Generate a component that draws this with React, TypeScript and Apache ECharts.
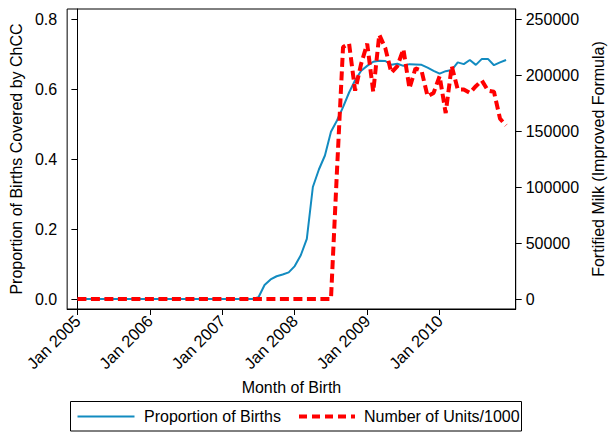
import React, { useEffect, useRef } from "react";
import * as echarts from "echarts";

// Month index: 0 = Jan 2005 ... 71 = Dec 2010
const months: number[] = Array.from({ length: 72 }, (_, i) => i);

const proportionBirths: number[] = [
  0, 0, 0, 0, 0, 0, 0, 0, 0, 0, 0, 0,
  0, 0, 0, 0, 0, 0, 0, 0, 0, 0, 0, 0,
  0, 0, 0, 0, 0, 0, 0.005, 0.04, 0.056, 0.065, 0.07, 0.076,
  0.094, 0.125, 0.172, 0.32, 0.37, 0.41, 0.478, 0.51, 0.548, 0.59, 0.625, 0.652,
  0.666, 0.678, 0.681, 0.68, 0.669, 0.672, 0.666, 0.671, 0.67, 0.669, 0.661, 0.652,
  0.644, 0.651, 0.654, 0.676, 0.671, 0.683, 0.669, 0.686, 0.686, 0.668, 0.676, 0.683,
];

const unitsMilk: number[] = [
  0, 0, 0, 0, 0, 0, 0, 0, 0, 0, 0, 0,
  0, 0, 0, 0, 0, 0, 0, 0, 0, 0, 0, 0,
  0, 0, 0, 0, 0, 0, 0, 0, 0, 0, 0, 0,
  0, 0, 0, 0, 0, 0, 0, 115000, 225000, 228000, 186000, 210000,
  228000, 185000, 236000, 224000, 202000, 208000, 223000, 188000, 206000, 204000, 181000, 184000,
  199000, 166000, 208000, 187000, 187000, 184000, 190000, 195000, 186000, 185000, 161000, 155000,
];

const xTickMonths: number[] = [0, 12, 24, 36, 48, 60];
const leftTicks: number[] = [0, 0.2, 0.4, 0.6, 0.8];
const rightTicks: number[] = [0, 50000, 100000, 150000, 200000, 250000];

const seriesNames = ["Proportion of Births", "Number of Units/1000"];

const FONT = "'Liberation Sans', Arial, Helvetica, sans-serif";
const FS = 16;
const BLUE = "#128bc0";
const RED = "#ff0000";

export default function App() {
  const ref = useRef<HTMLDivElement>(null);

  useEffect(() => {
    if (!ref.current) return;
    document.body.style.margin = "0";
    const chart = echarts.init(ref.current, undefined, { renderer: "svg" });

    const labelStyle = { color: "#000", fontFamily: FONT, fontSize: FS };

    chart.setOption({
      animation: false,
      backgroundColor: "#fff",
      textStyle: { fontFamily: FONT },
      grid: {
        left: 65,
        top: 9,
        width: 462,
        height: 300,
        show: true,
        borderColor: "#000",
        borderWidth: 1,
        backgroundColor: "transparent",
      },
      xAxis: {
        type: "value",
        min: -1.7,
        max: 72.6,
        name: "Month of Birth",
        nameLocation: "middle",
        nameGap: 64,
        nameTextStyle: { ...labelStyle },
        axisLine: { show: true, onZero: false, lineStyle: { color: "#000", width: 1 } },
        axisTick: {
          show: true,
          length: 6,
          customValues: xTickMonths,
          lineStyle: { color: "#000" },
        },
        axisLabel: {
          ...labelStyle,
          fontSize: 16.5,
          rotate: 45,
          margin: 9,
          customValues: xTickMonths,
          formatter: (v: number) => "Jan " + (2005 + Math.round(v / 12)),
        },
        splitLine: { show: false },
      },
      yAxis: [
        {
          type: "value",
          position: "left",
          min: -0.8 / 28,
          max: 0.8 + 0.8 / 28,
          name: "Proportion of Births Covered by ChCC",
          nameLocation: "middle",
          nameGap: 39,
          nameTextStyle: { ...labelStyle },
          axisLine: { show: true, lineStyle: { color: "#000" } },
          axisTick: {
            show: true,
            length: 6,
            customValues: leftTicks,
            lineStyle: { color: "#000" },
          },
          axisLabel: {
            ...labelStyle,
            margin: 10,
            customValues: leftTicks,
            formatter: (v: number) => v.toFixed(1),
          },
          splitLine: { show: false },
        },
        {
          type: "value",
          position: "right",
          min: -250000 / 28,
          max: 250000 + 250000 / 28,
          name: "Fortified Milk (Improved Formula)",
          nameLocation: "middle",
          nameGap: 71,
          nameTextStyle: { ...labelStyle },
          axisLine: { show: true, lineStyle: { color: "#000" } },
          axisTick: {
            show: true,
            length: 6,
            customValues: rightTicks,
            lineStyle: { color: "#000" },
          },
          axisLabel: {
            ...labelStyle,
            margin: 10,
            customValues: rightTicks,
            formatter: (v: number) => String(Math.round(v)),
          },
          splitLine: { show: false },
        },
      ],
      series: [
        {
          name: seriesNames[0],
          type: "line",
          yAxisIndex: 0,
          symbol: "none",
          data: months.map((m, i) => [m, proportionBirths[i]]),
          lineStyle: { color: BLUE, width: 2 },
          itemStyle: { color: BLUE },
          z: 2,
        },
        {
          name: seriesNames[1],
          type: "line",
          yAxisIndex: 1,
          symbol: "none",
          data: months.map((m, i) => [m, unitsMilk[i]]),
          lineStyle: { color: RED, width: 4, type: [9, 4.5] },
          itemStyle: { color: RED },
          z: 3,
        },
      ],
      graphic: [
        {
          type: "rect",
          shape: { x: 70.5, y: 401.5, width: 451, height: 29.5 },
          style: { fill: "#fff", stroke: "#000", lineWidth: 1 },
        },
        {
          type: "line",
          shape: { x1: 77.5, y1: 416.5, x2: 134.5, y2: 416.5 },
          style: { stroke: BLUE, lineWidth: 2 },
        },
        {
          type: "text",
          x: 144,
          y: 416.5,
          style: {
            text: seriesNames[0],
            fill: "#000",
            font: `${FS}px ${FONT}`,
            verticalAlign: "middle",
            align: "left",
          },
        },
        {
          type: "line",
          shape: { x1: 299, y1: 416.5, x2: 355, y2: 416.5 },
          style: { stroke: RED, lineWidth: 4, lineDash: [8, 5] },
        },
        {
          type: "text",
          x: 364,
          y: 416.5,
          style: {
            text: seriesNames[1],
            fill: "#000",
            font: `${FS}px ${FONT}`,
            verticalAlign: "middle",
            align: "left",
          },
        },
      ],
    });

    return () => {
      chart.dispose();
    };
  }, []);

  return (
    <div
      ref={ref}
      style={{ position: "fixed", left: 0, top: 0, width: 614, height: 432, background: "#fff" }}
    />
  );
}
